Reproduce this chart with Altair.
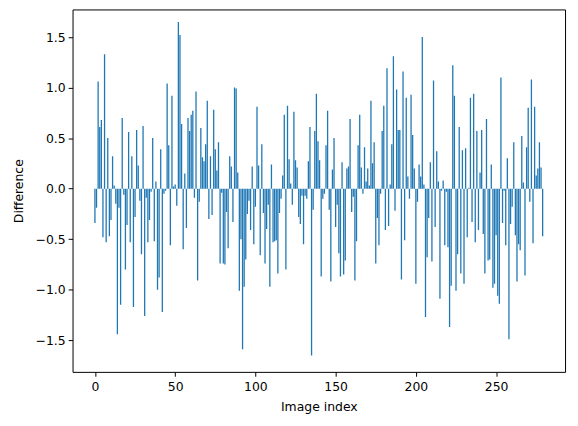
import altair as alt
import pandas as pd

# Difference per image index
diff_000_027 = [-0.34, -0.19, 1.06, 0.61, 0.68, -0.48, 1.33, -0.53, 0.50, -0.47,
                -0.31, 0.32, 0.03, -0.15, -1.44, -0.19, -1.15, 0.70, -0.06, -0.80,
                -0.36, 0.56, -0.53, 0.32, -1.17, -0.28, 0.58, 0.23]
diff_028_055 = [-0.12, -0.65, 0.62, -1.26, -0.09, -0.53, -0.31, -0.03, 0.50, -0.52,
                0.07, -1.00, -0.88, 0.39, -1.22, -0.05, -0.02, 1.04, 0.43, -0.56,
                0.92, 0.02, 0.04, -0.17, 1.65, 1.52, 0.64, -0.60]
diff_056_084 = [0.15, -0.39, 0.70, 0.57, 0.73, 0.77, -0.09, 0.96, -0.91, -0.13,
                0.60, 0.31, 0.27, 0.44, 0.87, -0.30, 0.32, -0.26, 0.78, 0.39,
                0.18, 0.46, -0.74, -0.04, -0.74, -0.75, -0.23, -0.59, 0.32]
diff_085_112 = [0.22, -0.33, 1.00, 0.99, 0.16, -1.01, -0.50, -1.59, -0.97, -0.70,
                -0.25, -0.12, -0.41, 0.22, -0.55, -0.18, 0.81, 0.23, -0.66, 0.44,
                -0.24, -0.74, -0.40, -0.16, -0.97, 0.24, -0.53, -0.52]
diff_113_141 = [-0.51, -0.84, -0.24, -0.10, 0.13, 0.73, -0.80, 0.82, 0.29, 0.05,
                -0.16, 0.76, 0.28, 0.21, -0.28, -0.35, -0.07, -0.55, -0.07, -0.10,
                0.27, 0.61, -1.65, -0.21, 0.57, 0.94, 0.47, 0.28, -0.87]
diff_142_170 = [-0.10, -0.05, 0.43, 0.77, -0.21, -0.92, 0.19, 0.50, -0.38, -0.16,
                -0.64, -0.87, 0.26, -0.85, -0.71, 0.20, 0.22, 0.69, -0.23, -0.08,
                -0.91, -0.52, 0.43, 0.73, 0.21, -0.05, 0.41, 0.07, 0.20]
diff_171_198 = [0.03, 0.87, 0.25, 0.46, -0.74, -0.29, -0.56, -0.05, 0.57, 0.82,
                -0.41, 1.19, -0.37, 0.04, 0.44, 1.31, -0.22, 0.98, 0.58, 0.58,
                -0.90, 1.16, -0.51, 0.90, 0.12, -0.10, 0.93, 0.53]
diff_199_227 = [0.20, -0.94, -0.13, 0.24, 0.12, 1.50, 0.04, -1.27, -0.68, -0.29,
                0.26, -0.72, 1.07, -0.38, 0.37, 0.07, -1.09, -0.02, 0.08, -0.56,
                -0.03, -0.58, -1.37, -0.96, 1.22, 0.92, -1.01, -0.65, 0.61]
diff_228_255 = [-0.84, 0.38, -0.94, 0.40, -0.48, 0.01, 0.90, -0.33, 0.94, -0.53,
                0.57, -0.41, 0.16, 0.58, -0.45, -0.84, 0.69, -0.71, -0.70, 0.24,
                -0.98, -0.94, -0.46, -1.06, -1.14, 1.10, -0.34, -0.02]
diff_256_279 = [-0.56, 0.30, -1.49, -0.35, -0.18, 0.46, -0.46, -0.92, -0.55, -0.61,
                0.52, 0.06, -0.86, 0.41, 0.80, -0.13, 1.08, -0.54, 0.81, 0.13,
                0.20, 0.46, 0.21, -0.47]

differences = (diff_000_027 + diff_028_055 + diff_056_084 + diff_085_112 +
               diff_113_141 + diff_142_170 + diff_171_198 + diff_199_227 +
               diff_228_255 + diff_256_279)
image_index = list(range(len(differences)))

x_ticks = [0, 50, 100, 150, 200, 250]
y_ticks = [-1.5, -1.0, -0.5, 0.0, 0.5, 1.0, 1.5]

df = pd.DataFrame({"idx": image_index, "diff": differences})

FONT = "DejaVu Sans"

chart = (
    alt.Chart(df)
    .transform_calculate(x0="datum.idx - 0.4", x1="datum.idx + 0.4")
    .mark_bar(color="#1f77b4", clip=True)
    .encode(
        x=alt.X(
            "x0:Q",
            scale=alt.Scale(domain=[-13.95, 292.95], nice=False, zero=False),
            axis=alt.Axis(title="Image index", values=x_ticks, format="d",
                          labelPadding=4.5, titlePadding=8),
        ),
        x2="x1:Q",
        y=alt.Y(
            "diff:Q",
            scale=alt.Scale(domain=[-1.813, 1.773], nice=False, zero=False),
            axis=alt.Axis(
                title="Difference",
                values=y_ticks,
                labelExpr="replace(format(datum.value, '.1f'), '-', '\u2212')",
                labelPadding=3,
                titlePadding=10,
            ),
        ),
        y2=alt.datum(0),
    )
    .properties(
        width=496,
        height=365,
        autosize=alt.AutoSizeParams(type="none"),
        padding={"left": 65, "top": 0, "right": 5, "bottom": 45},
    )
    .configure_view(stroke="black", strokeWidth=1)
    .configure_axis(
        grid=False,
        domain=False,
        labelFont=FONT,
        titleFont=FONT,
        labelFontSize=12.5,
        titleFontSize=12.5,
        titleFontWeight="normal",
        labelColor="black",
        titleColor="black",
        tickColor="black",
        tickSize=4.4,
        tickWidth=1,
    )
)

chart.save("out.html", embed_options={"renderer": "svg", "actions": False})
